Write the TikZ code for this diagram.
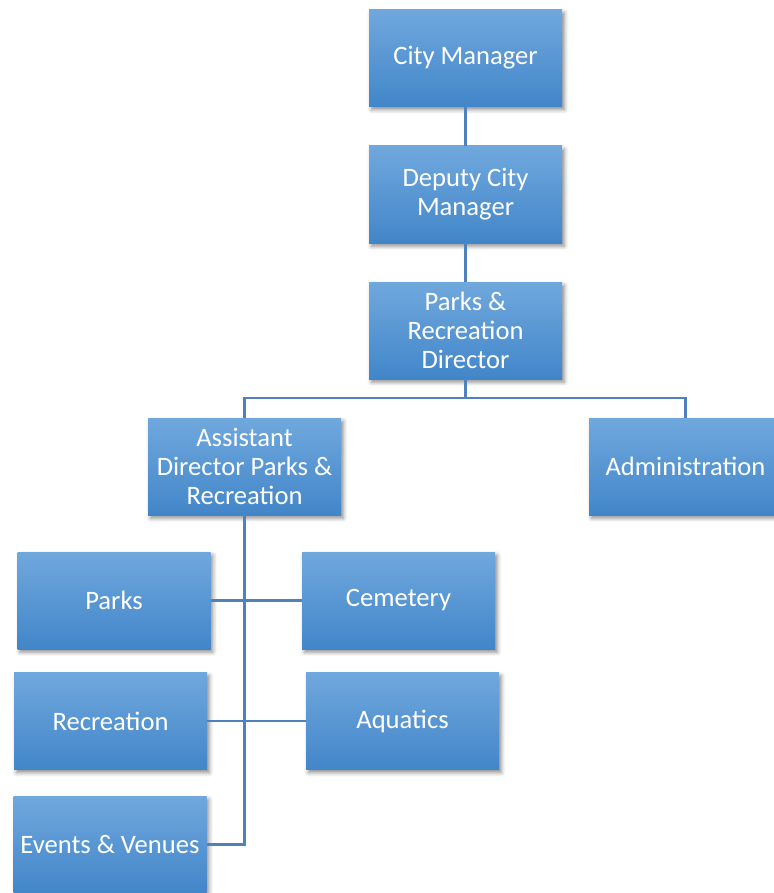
\documentclass[tikz,border=0pt]{standalone}
\usepackage{fontspec}
\setmainfont{Carlito}
\usetikzlibrary{shadows.blur}

\definecolor{boxtop}{RGB}{112, 168, 221}
\definecolor{boxbottom}{RGB}{66, 134, 201}
\definecolor{linkcolor}{RGB}{79, 129, 189}

\begin{document}
\begin{tikzpicture}[
        x=0.5pt, y=-0.5pt,
        unit/.style={rectangle, minimum width=96.5pt, minimum height=48.5pt,
            inner sep=2pt, align=center, text=white,
            font=\fontsize{13.3}{14.5}\selectfont,
            top color=boxtop, bottom color=boxbottom,
            blur shadow={shadow xshift=1.2pt, shadow yshift=-1.6pt,
                shadow blur radius=2pt, shadow opacity=45}},
        link/.style={draw=linkcolor, line width=1.2pt}
    ]
    \useasboundingbox (0,0) rectangle (773,893);

    % top of the chain
    \node[unit] (cm) at (465.5, 58) {City Manager};
    \node[unit] (dcm) at (465.5, 194.5) {Deputy City\\Manager};
    \node[unit] (dir) at (465.5, 330.5) {Parks \&\\Recreation\\Director};

    % second level
    \node[unit] (asst) at (244.5, 466.5) {Assistant\\Director Parks \&\\Recreation};
    \node[unit] (admin) at (685.5, 466.5) {Administration};

    % divisions
    \node[unit] (parks) at (114, 600.5) {Parks};
    \node[unit] (cem) at (398.5, 600.5) {Cemetery};
    \node[unit] (rec) at (110.5, 721) {Recreation};
    \node[unit] (aqua) at (402.5, 721) {Aquatics};
    \node[unit] (events) at (110, 844.5) {Events \& Venues};

    \coordinate (split) at (465.5, 398);

    \draw[link] (cm.south) -- (dcm.north);
    \draw[link] (dcm.south) -- (dir.north);
    \draw[link] (dir.south) -- (split) -| (asst.north);
    \draw[link] (split) -| (admin.north);
    \draw[link] (asst.south) |- (events.east);
    \foreach \a/\b in {parks/cem, rec/aqua}
        \draw[link] (\a.east) -- (\b.west);
\end{tikzpicture}
\end{document}
